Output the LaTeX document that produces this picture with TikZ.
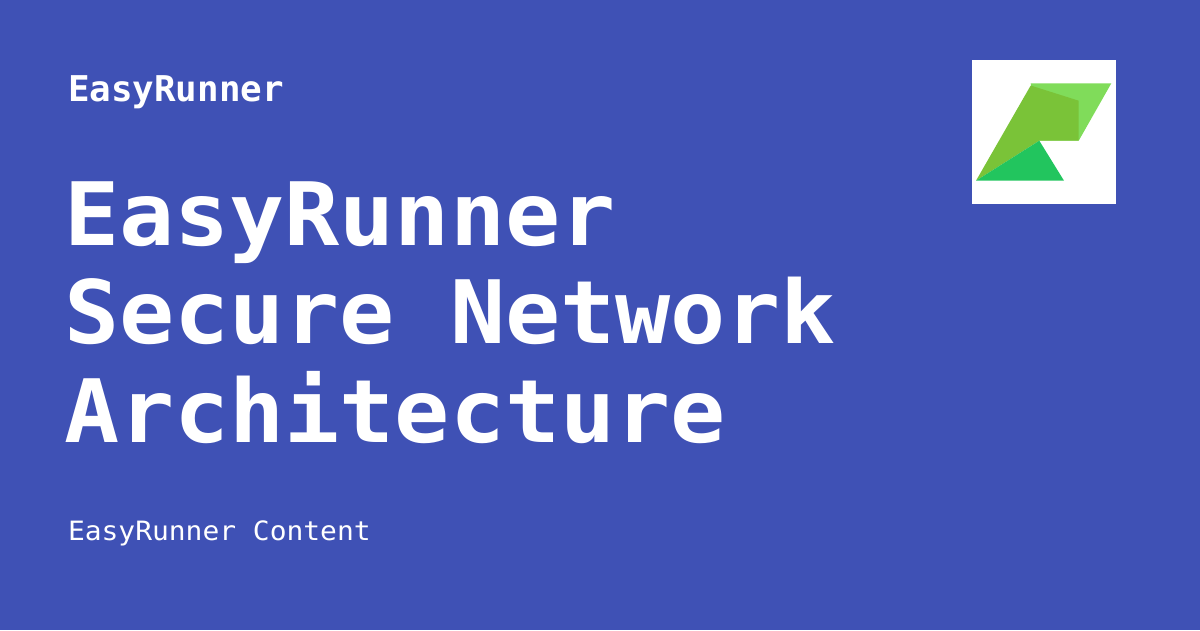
\documentclass[tikz,border=0pt]{standalone}
\usepackage{fontspec}
\setmainfont{DejaVu Sans Mono}[BoldFont={DejaVu Sans Mono Bold}]
\newfontfamily\titlefont{DejaVu Sans Mono Bold}[FakeStretch=1.047]
\newfontfamily\brandfont{DejaVu Sans Mono Bold}[FakeStretch=1.01]
\newfontfamily\subfont{DejaVu Sans Mono}[FakeStretch=1.05]
\definecolor{bgc}{HTML}{3F51B5}
\definecolor{ga}{HTML}{7AC338}
\definecolor{gb}{HTML}{80DC5A}
\definecolor{gc}{HTML}{22C55E}
\begin{document}
\begin{tikzpicture}[x=1pt,y=-1pt,
  txt/.style={anchor=base west,inner sep=0pt,outer sep=0pt,text=white}]
\useasboundingbox (0,0) rectangle (1200,630);
\fill[bgc] (0,0) rectangle (1200,630);
\node[txt,font=\brandfont\fontsize{35.5}{35.5}\selectfont] (brand) at (68,101) {EasyRunner};
\node[txt,font=\titlefont\fontsize{87.5}{87.5}\selectfont] (t1) at (64,245) {EasyRunner};
\node[txt,font=\titlefont\fontsize{87.5}{87.5}\selectfont] (t2) at (64,343) {Secure Network};
\node[txt,font=\titlefont\fontsize{87.5}{87.5}\selectfont] (t3) at (64,442) {Architecture};
\node[txt,font=\subfont\fontsize{26.6}{26.6}\selectfont] (sub) at (68,540) {EasyRunner Content};
\fill[white] (972,60) rectangle (1116,204);
\fill[gb] (1030.7,83.3) -- (1111.3,83.3) -- (1078.7,140.7) -- (1039.3,140.7) -- cycle;
\fill[ga] (1030.7,85.5) -- (1078.7,100.7) -- (1078.7,140.7) -- (1039.3,140.7) -- (976,180.7) -- cycle;
\fill[gc] (976,180.7) -- (1039.3,140.7) -- (1064,180.7) -- cycle;
\end{tikzpicture}
\end{document}
